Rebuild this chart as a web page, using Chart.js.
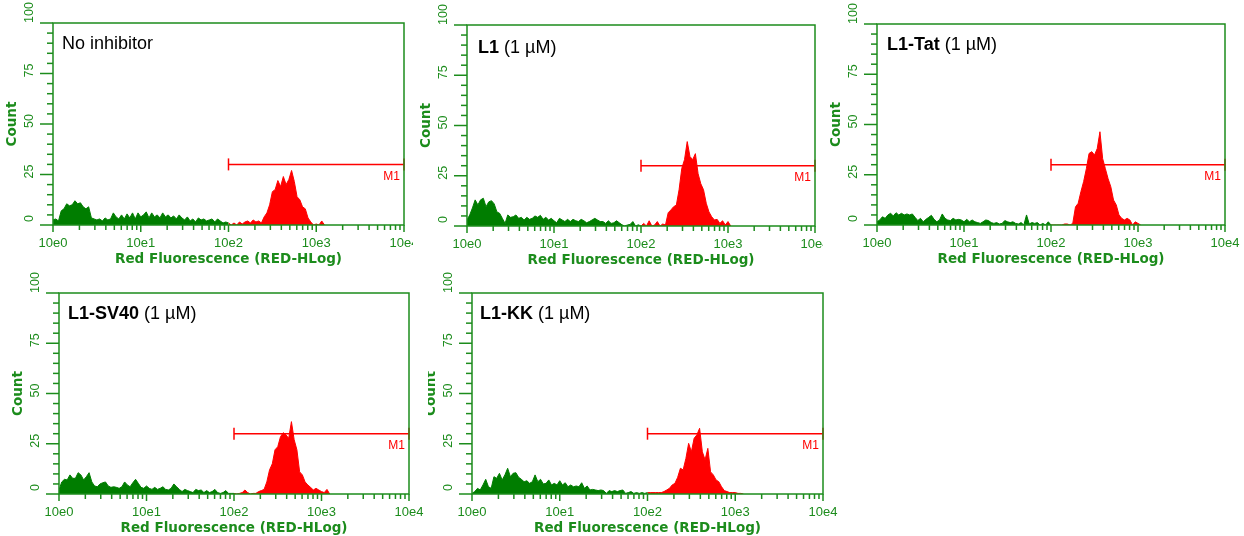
<!DOCTYPE html>
<html>
<head>
<meta charset="utf-8">
<script src="https://cdn.jsdelivr.net/npm/chart.js@4"></script>
<style>
  html, body { margin: 0; padding: 0; background: #fff; }
  body { width: 1244px; height: 536px; position: relative; overflow: hidden; }
  canvas { position: absolute; }
</style>
</head>
<body>
<canvas id="p1"></canvas>
<canvas id="p2"></canvas>
<canvas id="p3"></canvas>
<canvas id="p4"></canvas>
<canvas id="p5"></canvas>
<script>
/* ---------------- DATA ---------------- */

// histogram channels: 32 per decade, 10e0 .. 10e4
const channelsPerDecade = 32;

// counts per channel
const noInhibitor = [
  2.5, 3, 2, 7, 8, 10.5, 9.5, 10, 12, 10.5, 11, 9, 8, 9, 3.5, 3,
  2.5, 3, 2, 3.5, 2.5, 3, 6, 4, 3, 5, 3, 5.5, 3.5, 6, 3, 6,
  4, 5, 6.5, 3.5, 6, 4, 5, 3.5, 6, 4, 5, 3.5, 4.5, 3, 5, 3.5,
  2.5, 4, 2, 3, 1.5, 3.5, 2.5, 3, 2, 2.5, 3, 1.5, 3, 2, 1, 1.5,
  1, 0, 1, 0, 1.5, 0.5, 1.5, 2, 1, 2.5, 1.5, 2, 1, 4, 6, 10,
  16.5, 17.5, 22, 19, 24, 20, 22.5, 27, 21.5, 14, 12.5, 9, 8, 3.5, 1.5, 0,
  0.5, 0, 2, 0
];
const l1 = [
  3, 5.5, 9, 13, 10.5, 13, 13.8, 9.6, 12, 12.6, 11, 7, 6.3, 3.8, 1.3, 5.5,
  4.3, 4.6, 5.5, 3.8, 4.3, 3, 4.3, 3.3, 3.8, 5, 4.3, 5.3, 3.3, 4.3, 3, 3.8,
  2.6, 1.6, 3.8, 3, 2.2, 3.3, 2.2, 3.3, 2.6, 2.2, 3.3, 2.6, 1.6, 2.2, 3, 3.8,
  3, 2.2, 2.2, 1.3, 2.6, 1.3, 1.6, 2.6, 1.6, 0.6, 0, 0.5, 0.8, 2.2, 0, 0.6,
  0, 1.3, 0, 2.6, 0, 0.5, 2.2, 0, 1, 0.5, 6.6, 8, 9.6, 10.4, 18, 28.7,
  33, 42, 34.6, 33, 36, 26, 21, 18, 11.3, 7, 4.6, 3, 3.3, 1.3, 2.6, 0.5,
  2.2, 0
];
const l1Tat = [
  1.6, 2.5, 4.1, 3.3, 5, 5.8, 4.5, 6.1, 5, 5.8, 5, 5.5, 5, 5.5, 3.8, 2.2,
  3.3, 1.6, 2.8, 3.8, 4.8, 2.8, 1.6, 2.5, 5.5, 3.3, 2.5, 2.2, 3.3, 2.5, 2.8, 2.5,
  1.6, 2.8, 1.6, 2.5, 1.6, 1.2, 0.8, 1.6, 2.5, 2.2, 1.2, 0.8, 1.2, 0.5, 0.8, 2.2,
  1.6, 1.2, 1.6, 0.8, 0.5, 1.2, 0, 5, 0.5, 1.2, 0.8, 1.2, 0, 0.8, 0, 1.6,
  0, 0, 0, 0, 0, 0.5, 0.5, 0, 0.8, 9, 10.8, 16.6, 21.6, 28, 35.6, 36.5,
  34.8, 38, 46.4, 33, 28, 23, 19, 12.4, 10, 5, 3.3, 2.5, 3.3, 2.5, 0, 1.6,
  0.8, 0
];
const l1Sv40 = [
  2, 6, 7.3, 7, 9.5, 7.8, 7.8, 10.6, 9.5, 7, 8.6, 10.6, 6, 4, 3.6, 5,
  5.6, 6, 4, 3.3, 3.6, 3.3, 2.8, 3.6, 6, 4.5, 3.6, 5.6, 7.3, 5.3, 3.3, 2.8,
  4, 2.8, 2.3, 3.3, 2.3, 2.8, 3.6, 2.3, 2, 2.8, 5, 3.6, 2.3, 1.2, 2.3, 1.7,
  1.2, 0.7, 2.3, 1.7, 2, 0.7, 1.7, 0.7, 1.2, 2.3, 0.7, 0.3, 0.7, 1.7, 0.3, 0.3,
  0.3, 0, 0.3, 0.7, 2, 0.7, 0, 0.3, 0.3, 1.2, 1.7, 2.3, 6, 12, 15, 22,
  23.5, 28.5, 30.5, 29.4, 27.7, 36, 27, 22, 11, 9.5, 6, 4.5, 3.3, 2, 2.8, 2,
  1.2, 0.7, 2.3, 0
];
const l1Kk = [
  0.3, 1.2, 2.8, 2, 4.5, 7.3, 3.6, 2.8, 8.6, 7.8, 10.3, 7, 9.5, 12.8, 8.6, 10.3,
  10.6, 8.3, 7.3, 6.1, 6.6, 5.3, 6.1, 9.5, 6.1, 7.3, 5, 5.3, 7, 4.5, 5.3, 4.5,
  6.6, 4.5, 5.6, 3.6, 4.5, 3.6, 4, 3.6, 5.6, 2.8, 4, 2, 2.3, 2, 1.7, 2,
  1.7, 0.3, 1.7, 1.2, 1.7, 1.2, 1.7, 2, 0.3, 0.7, 1.2, 0.3, 0.7, 0.3, 0.7, 0.3,
  0.7, 0.7, 0.7, 0.7, 0.7, 0.7, 1.2, 2, 2.8, 4.5, 5.3, 8.3, 12.8, 12, 17.7, 25.2,
  21, 27.7, 29.4, 32.7, 21, 17, 22.7, 11, 9.5, 7, 6.1, 3.6, 1.7, 1.2, 0.7, 0.7,
  0.7, 0.3, 0.3, 0
];

// marker M1
const m1Start = 100;
const m1End = 10000;
const m1Level = 30;

// axes
const xTickValues = [1, 10, 100, 1000, 10000];
const xTickLabels = ["10e0", "10e1", "10e2", "10e3", "10e4"];
const yTickValues = [0, 25, 50, 75, 100];
const xTitle = "Red Fluorescence (RED-HLog)";
const yTitle = "Count";

const titlesBold = ["", "L1", "L1-Tat", "L1-SV40", "L1-KK"];
const titlesRest = ["No inhibitor", " (1 \u00b5M)", " (1 \u00b5M)", " (1 \u00b5M)", " (1 \u00b5M)"];
const counts = [noInhibitor, l1, l1Tat, l1Sv40, l1Kk];

/* ---------------- STYLE ---------------- */

const GREEN = "#007d00";
const AXIS = "#1c8c1c";
const RED = "#ff0000";

const panels = [
  { id: "p1", left: 0,   top: 0,   w: 413, h: 270, pad: { left: 53, top: 23, right: 9,  bottom: 45 }, tdx: 9,  tdy: 21.5 },
  { id: "p2", left: 413, top: 0,   w: 410, h: 270, pad: { left: 54, top: 25, right: 8,  bottom: 44 }, tdx: 11, tdy: 23.5 },
  { id: "p3", left: 823, top: 0,   w: 421, h: 270, pad: { left: 54, top: 24, right: 19, bottom: 45 }, tdx: 10, tdy: 21.5 },
  { id: "p4", left: 0,   top: 270, w: 428, h: 266, pad: { left: 59, top: 23, right: 19, bottom: 42 }, tdx: 9,  tdy: 21 },
  { id: "p5", left: 428, top: 270, w: 416, h: 266, pad: { left: 44, top: 23, right: 21, bottom: 42 }, tdx: 8,  tdy: 21 }
];

/* ---------------- HELPERS ---------------- */

function channelX(i) {
  return Math.pow(10, i / channelsPerDecade);
}

function toPoints(arr, from, to) {
  const pts = [];
  for (let i = from; i <= Math.min(to, arr.length - 1); i++) {
    pts.push({ x: channelX(i), y: arr[i] });
  }
  return pts;
}

function hline(ctx, x1, y1, x2, y2) {
  ctx.beginPath();
  ctx.moveTo(x1, y1);
  ctx.lineTo(x2, y2);
  ctx.stroke();
}

/* ---------------- FRAME PLUGIN ---------------- */

function framePlugin(k, panel) {
  return {
    id: "frame" + k,
    afterDatasetsDraw(chart) {
      const ctx = chart.ctx;
      const a = chart.chartArea;
      const xs = chart.scales.x;
      const ys = chart.scales.y;

      ctx.save();
      ctx.strokeStyle = AXIS;
      ctx.lineWidth = 1.5;
      ctx.strokeRect(a.left, a.top, a.right - a.left, a.bottom - a.top);

      // y ticks, every 5
      for (let v = 0; v <= 100; v += 5) {
        const y = ys.getPixelForValue(v);
        const len = v % 25 === 0 ? 13 : 6;
        hline(ctx, a.left - len, y, a.left, y);
      }
      // x ticks, log decades
      for (let d = 0; d < 4; d++) {
        for (let m = 1; m < 10; m++) {
          const x = xs.getPixelForValue(m * Math.pow(10, d));
          hline(ctx, x, a.bottom, x, a.bottom + (m === 1 ? 7 : 5));
        }
      }
      const xEnd = xs.getPixelForValue(10000);
      hline(ctx, xEnd, a.bottom, xEnd, a.bottom + 7);

      // tick labels
      ctx.fillStyle = AXIS;
      ctx.textAlign = "center";
      ctx.textBaseline = "middle";
      ctx.font = "13px 'Liberation Sans', Arial, sans-serif";
      xTickValues.forEach((v, i) => {
        ctx.fillText(xTickLabels[i], xs.getPixelForValue(v), a.bottom + 18);
      });

      ctx.font = "12.5px 'Liberation Sans', Arial, sans-serif";
      yTickValues.forEach(v => {
        const label = String(v);
        const half = ctx.measureText(label).width / 2;
        let cy = ys.getPixelForValue(v) - 3;
        if (v === 100) cy = a.top - half;
        if (v === 0) cy = a.bottom - 3 - half;
        ctx.save();
        ctx.translate(a.left - 23, cy);
        ctx.rotate(-Math.PI / 2);
        ctx.fillText(label, 0, 0);
        ctx.restore();
      });

      // axis titles
      ctx.font = "bold 13.5px 'DejaVu Sans', Verdana, sans-serif";
      ctx.fillText(xTitle, (a.left + a.right) / 2, a.bottom + 34);
      ctx.save();
      ctx.translate(a.left - 41, (a.top + a.bottom) / 2);
      ctx.rotate(-Math.PI / 2);
      ctx.fillText(yTitle, 0, 0);
      ctx.restore();

      // M1 label
      ctx.fillStyle = RED;
      ctx.textAlign = "right";
      ctx.font = "12px 'Liberation Sans', Arial, sans-serif";
      ctx.fillText("M1", a.right - 4, ys.getPixelForValue(m1Level) + 12);

      // panel title
      ctx.fillStyle = "#000";
      ctx.textAlign = "left";
      let tx = a.left + panel.tdx;
      const ty = a.top + panel.tdy;
      if (titlesBold[k]) {
        ctx.font = "bold 18px 'Liberation Sans', Arial, sans-serif";
        ctx.fillText(titlesBold[k], tx, ty);
        tx += ctx.measureText(titlesBold[k]).width;
      }
      ctx.font = "18px 'Liberation Sans', Arial, sans-serif";
      ctx.fillText(titlesRest[k], tx, ty);

      ctx.restore();
    }
  };
}

/* ---------------- CHARTS ---------------- */

panels.forEach((p, k) => {
  const cv = document.getElementById(p.id);
  cv.width = p.w;
  cv.height = p.h;
  cv.style.left = p.left + "px";
  cv.style.top = p.top + "px";
  cv.style.width = p.w + "px";
  cv.style.height = p.h + "px";

  const data = counts[k];
  const split = 2 * channelsPerDecade; // 10e2, start of M1

  new Chart(cv, {
    type: "line",
    data: {
      datasets: [
        {
          data: toPoints(data, 0, split),
          borderColor: GREEN,
          backgroundColor: GREEN,
          borderWidth: 1,
          fill: "origin",
          pointRadius: 0,
          tension: 0
        },
        {
          data: toPoints(data, split, data.length - 1),
          borderColor: RED,
          backgroundColor: RED,
          borderWidth: 1,
          fill: "origin",
          pointRadius: 0,
          tension: 0
        },
        {
          data: [{ x: m1Start, y: m1Level }, { x: m1End, y: m1Level }],
          borderColor: RED,
          borderWidth: 1.5,
          fill: false,
          pointStyle: "line",
          rotation: 90,
          pointRadius: 6,
          pointBorderWidth: 1.5,
          pointBorderColor: RED,
          clip: false
        }
      ]
    },
    options: {
      responsive: false,
      animation: false,
      devicePixelRatio: 1,
      layout: { padding: p.pad },
      plugins: { legend: { display: false }, tooltip: { enabled: false } },
      scales: {
        x: { type: "logarithmic", min: 1, max: 10000, display: false },
        y: { type: "linear", min: 0, max: 100, display: false }
      }
    },
    plugins: [framePlugin(k, p)]
  });
});
</script>
</body>
</html>
